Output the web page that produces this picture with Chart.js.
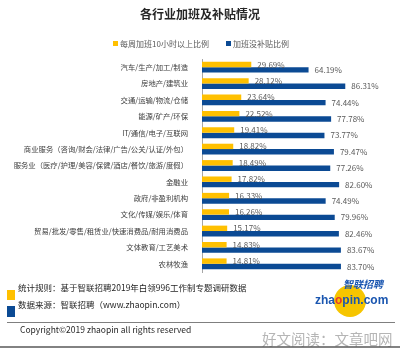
<!DOCTYPE html>
<html>
<head>
<meta charset="utf-8">
<script src="https://cdn.jsdelivr.net/npm/chart.js"></script>
<style>
  html, body { margin: 0; padding: 0; background: #fff; }
  canvas { display: block; }
</style>
</head>
<body>
<canvas id="c" width="400" height="348"></canvas>
<script>
const categories = [
  '汽车/生产/加工/制造',
  '房地产/建筑业',
  '交通/运输/物流/仓储',
  '能源/矿产/环保',
  'IT/通信/电子/互联网',
  '商业服务（咨询/财会/法律/广告/公关/认证/外包）',
  '服务业（医疗/护理/美容/保健/酒店/餐饮/旅游/度假）',
  '金融业',
  '政府/非盈利机构',
  '文化/传媒/娱乐/体育',
  '贸易/批发/零售/租赁业/快速消费品/耐用消费品',
  '文体教育/工艺美术',
  '农林牧渔'
];
const overtimeRate = [29.69, 28.12, 23.64, 22.52, 19.41, 18.82, 18.49, 17.82, 16.33, 16.26, 15.17, 14.83, 14.81];
const noSubsidyRate = [64.19, 86.31, 74.44, 77.78, 73.77, 79.47, 77.26, 82.60, 74.49, 79.96, 82.46, 83.67, 83.70];
const seriesNames = ['每周加班10小时以上比例', '加班没补贴比例'];

const CJK = '"Noto Sans CJK SC", "Noto Sans", sans-serif';
const YELLOW = '#ffc000';
const BLUE = '#0b4a94';

// value labels at the end of each bar
const valueLabels = {
  id: 'valueLabels',
  afterDatasetsDraw(chart) {
    const ctx = chart.ctx;
    ctx.save();
    ctx.font = '8px ' + CJK;
    ctx.fillStyle = '#595959';
    ctx.textAlign = 'left';
    ctx.textBaseline = 'middle';
    chart.data.datasets.forEach((ds, i) => {
      chart.getDatasetMeta(i).data.forEach((bar, j) => {
        ctx.fillText(ds.data[j].toFixed(2) + '%', bar.x + 6, bar.y);
      });
    });
    ctx.restore();
  }
};

// title, legend, notes, logo and footer
const decorations = {
  id: 'decorations',
  afterDraw(chart) {
    const ctx = chart.ctx;
    ctx.save();
    ctx.textBaseline = 'middle';

    ctx.fillStyle = '#262626';
    ctx.textAlign = 'center';
    ctx.font = 'bold 12px ' + CJK;
    ctx.fillText('各行业加班及补贴情况', 200, 14);

    // legend
    ctx.textAlign = 'left';
    ctx.font = '8px ' + CJK;
    const legendX = [113, 226];
    chart.data.datasets.forEach((ds, i) => {
      ctx.fillStyle = ds.backgroundColor;
      ctx.fillRect(legendX[i], 41, 5, 5);
      ctx.fillStyle = '#595959';
      ctx.fillText(ds.label, legendX[i] + 7, 43.5);
    });

    // notes
    ctx.fillStyle = YELLOW;
    ctx.fillRect(7, 290, 8, 10);
    ctx.fillStyle = BLUE;
    ctx.fillRect(7, 306, 8, 11);
    ctx.fillStyle = '#262626';
    ctx.font = '8.5px ' + CJK;
    ctx.fillText('统计规则：基于智联招聘2019年白领996工作制专题调研数据', 18, 288);
    ctx.fillText('数据来源：智联招聘（www.zhaopin.com）', 18, 305);

    // logo
    ctx.fillStyle = '#f6c500';
    ctx.beginPath();
    ctx.arc(350, 301, 16, 0, Math.PI * 2);
    ctx.fill();
    ctx.fillStyle = '#1a56b0';
    ctx.font = 'italic bold 10px ' + CJK;
    ctx.fillText('智联招聘', 343, 284);
    ctx.font = 'bold 12px "Liberation Sans", Arial, sans-serif';
    let x = 315;
    const parts = [['zha', '#1a56b0'], ['o', '#e8372c'], ['pin.com', '#1a56b0']];
    parts.forEach(([t, c]) => {
      ctx.fillStyle = c;
      ctx.fillText(t, x, 300.5);
      x += ctx.measureText(t).width;
    });

    // separator and copyright
    ctx.strokeStyle = '#7f7f7f';
    ctx.lineWidth = 1;
    ctx.beginPath();
    ctx.moveTo(7, 322.5);
    ctx.lineTo(395, 322.5);
    ctx.stroke();

    ctx.fillStyle = '#262626';
    ctx.font = '8.5px ' + CJK;
    ctx.fillText('Copyright©2019 zhaopin all rights reserved', 20, 330);

    ctx.fillStyle = '#b5b5b5';
    ctx.font = '14.5px ' + CJK;
    ctx.fillText('好文阅读：文章吧网', 262, 339);

    ctx.strokeStyle = '#595959';
    ctx.lineWidth = 1.5;
    ctx.beginPath();
    ctx.moveTo(0, 347);
    ctx.lineTo(400, 347);
    ctx.stroke();

    ctx.restore();
  }
};

new Chart(document.getElementById('c'), {
  type: 'bar',
  data: {
    labels: categories,
    datasets: [
      { label: seriesNames[0], data: overtimeRate, backgroundColor: YELLOW },
      { label: seriesNames[1], data: noSubsidyRate, backgroundColor: BLUE }
    ]
  },
  options: {
    indexAxis: 'y',
    responsive: false,
    animation: false,
    devicePixelRatio: 1,
    layout: { padding: { top: 59, bottom: 76, right: 32, left: 0 } },
    datasets: { bar: { categoryPercentage: 0.66, barPercentage: 1.0 } },
    plugins: { legend: { display: false }, title: { display: false }, tooltip: { enabled: false } },
    scales: {
      x: { display: false, min: 0, max: 100 },
      y: {
        afterFit(scale) { scale.width = 202; },
        grid: { display: false },
        border: { display: true, color: '#a6a6a6', width: 1 },
        ticks: { font: { size: 7.35, family: CJK }, color: '#404040', padding: 6, autoSkip: false }
      }
    }
  },
  plugins: [valueLabels, decorations]
});
</script>
</body>
</html>
